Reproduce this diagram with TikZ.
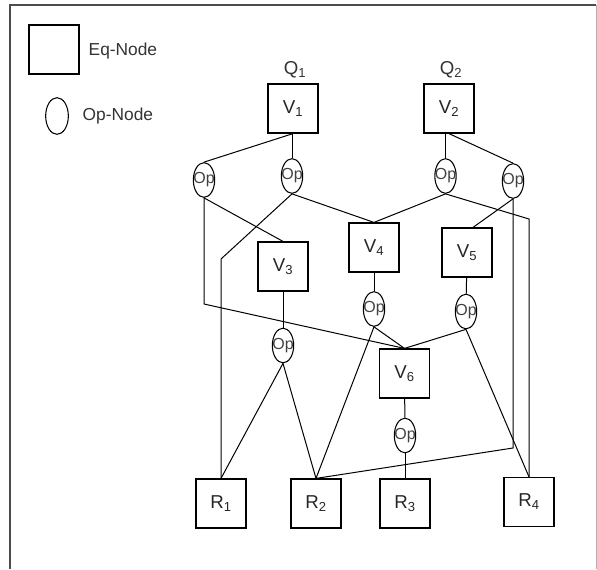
\documentclass[tikz,border=0pt]{standalone}
\usepackage{fontspec}
\setmainfont{Liberation Sans}
\usetikzlibrary{shapes.geometric}

\begin{document}
\begin{tikzpicture}[x=0.75pt,y=-0.75pt,
  eqnode/.style={draw,line width=0.9pt,minimum width=37.5pt,minimum height=36.75pt,inner sep=0pt,font=\fontsize{14}{16}\selectfont,text=black!85},
  opnode/.style={draw,ellipse,line width=0.8pt,minimum width=16pt,minimum height=26pt,inner sep=0pt,
    label={[font=\fontsize{12}{14}\selectfont,inner sep=0pt,text=black!75]center:Op}},
  legtext/.style={anchor=west,font=\fontsize{13}{15}\selectfont,text=black!80},
  edge/.style={line width=0.75pt}]
\useasboundingbox (0,0) rectangle (597,569);

% Frame
\draw[line width=1.5pt,black!70] (9.5,569) -- (9.5,5) -- (596,5);
\draw[line width=0.6pt,black!30] (596,5) -- (596,569);

% Legend
\node[eqnode] (legeq) at (54,49.5) {};
\node[legtext] (legeqtext) at (84,51) {Eq-Node};
\node[draw,ellipse,line width=0.8pt,minimum width=17pt,minimum height=27.5pt,inner sep=0pt] (legop) at (57,116) {};
\node[legtext] (legoptext) at (78,116) {Op-Node};

% Queries
\node[font=\fontsize{14}{16}\selectfont,text=black!80] (q1) at (295,70) {Q\textsubscript{1}};
\node[font=\fontsize{14}{16}\selectfont,text=black!80] (q2) at (451,70) {Q\textsubscript{2}};

% Eq-Nodes
\node[eqnode] (v1) at (293,108.5) {V\textsubscript{1}};
\node[eqnode] (v2) at (449,108.5) {V\textsubscript{2}};
\node[eqnode] (v3) at (283,266.5) {V\textsubscript{3}};
\node[eqnode] (v4) at (374,247.5) {V\textsubscript{4}};
\node[eqnode] (v5) at (467,252.5) {V\textsubscript{5}};
\node[eqnode] (v6) at (404.5,373.5) {V\textsubscript{6}};
\node[eqnode] (r1) at (221,503.5) {R\textsubscript{1}};
\node[eqnode] (r2) at (316,503.5) {R\textsubscript{2}};
\node[eqnode] (r3) at (405,503.5) {R\textsubscript{3}};
\node[eqnode] (r4) at (529,502) {R\textsubscript{4}};

% Op-Nodes
\node[opnode] (oa) at (204,180) {};
\node[opnode] (ob) at (292,176) {};
\node[opnode] (oc) at (445.5,176) {};
\node[opnode] (od) at (513,181) {};
\node[opnode] (o3) at (283,345.5) {};
\node[opnode] (o4) at (374,309) {};
\node[opnode] (o5) at (466,311.5) {};
\node[opnode] (o6) at (405,435.5) {};

% Edges
\draw[edge] (v1.south) -- (oa.north);
\draw[edge] (v1.south -| ob) -- (ob.north);
\draw[edge] (v2.south -| oc) -- (oc.north);
\draw[edge] (v2.south) -- (od.north);
\draw[edge] (oa.south) -- (v3.north);
\draw[edge] (oa.south) -- (oa.south |- 0,304) -- (v6.north);
\draw[edge] (ob.south) -- (v4.north);
\draw[edge] (ob.south) -- (r1.north |- 0,259) -- (r1.north);
\draw[edge] (oc.south) -- (v4.north);
\draw[edge] (oc.south) -- (r4.north |- 0,219) -- (r4.north);
\draw[edge] (od.south) -- ([xshift=4.5pt]v5.north);
\draw[edge] (od.south) -- (od.south |- 0,448) -- (r2.north);
\draw[edge] (v3) -- (o3);
\draw[edge] (o3.south) -- (r1.north);
\draw[edge] (o3.south) -- (r2.north);
\draw[edge] (v4) -- (o4);
\draw[edge] (o4.south) -- (v6.north);
\draw[edge] (o4.south) -- (r2.north);
\draw[edge] (v5) -- (o5);
\draw[edge] (o5.south) -- (v6.north);
\draw[edge] (o5.south) -- (r4.north);
\draw[edge] (v6) -- (o6);
\draw[edge] (o6) -- (r3);
\end{tikzpicture}
\end{document}
